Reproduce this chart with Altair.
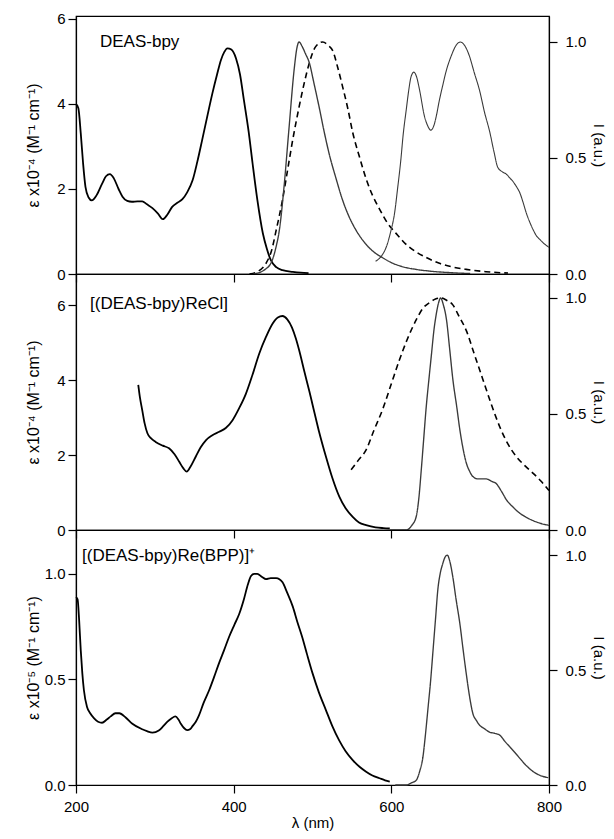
import altair as alt
import pandas as pd

FONT = "Liberation Sans"

# ---------------- Panel 1 : DEAS-bpy ----------------
p1_abs_wl = [200, 203, 206, 209, 212, 216, 220, 226, 233, 238, 243, 248, 254, 259, 265, 271, 278, 284,
             290, 297, 304, 310, 316, 322, 329, 335, 341, 348, 354, 360, 367, 373, 379, 384, 388, 392,
             397, 403, 408, 413, 419, 424, 430, 437, 442, 447, 454, 462, 475, 485, 495]
p1_abs_v = [4.0, 3.9, 3.32, 2.6, 2.05, 1.8, 1.73, 1.85, 2.12, 2.3, 2.35, 2.25, 2.0, 1.82, 1.72, 1.70, 1.71, 1.71,
            1.64, 1.55, 1.42, 1.29, 1.40, 1.58, 1.68, 1.76, 1.92, 2.21, 2.65, 3.15, 3.75, 4.25, 4.7, 5.04, 5.22, 5.31,
            5.28, 5.07, 4.7, 4.09, 3.35, 2.6, 1.75, 0.96, 0.6, 0.33, 0.16, 0.09, 0.05, 0.03, 0.02]

p1_dash_wl = [420, 430, 441, 448, 454, 462, 468, 475, 483, 490, 496, 504, 513, 520, 526, 532, 538, 545, 551,
              560, 568, 576, 585, 595, 606, 618, 631, 645, 661, 678, 695, 720, 748]
p1_dash_v = [0.0, 0.01, 0.046, 0.1, 0.19, 0.32, 0.44, 0.58, 0.72, 0.83, 0.91, 0.98, 1.0, 0.985, 0.96, 0.89, 0.81,
             0.71, 0.61, 0.5, 0.41, 0.34, 0.28, 0.22, 0.175, 0.13, 0.096, 0.07, 0.046, 0.03, 0.02, 0.01, 0.004]

p1_fl_wl = [425, 440, 449, 454, 458, 464, 470, 477, 480, 483, 487, 491, 496, 502, 509, 515, 521, 530, 538,
            546, 555, 565, 576, 589, 602, 616, 631, 650, 674, 700]
p1_fl_v = [0.0, 0.02, 0.06, 0.12, 0.19, 0.38, 0.62, 0.89, 0.97, 1.0, 0.98, 0.95, 0.91, 0.82, 0.71, 0.61, 0.52,
           0.41, 0.32, 0.25, 0.19, 0.14, 0.10, 0.07, 0.046, 0.03, 0.02, 0.012, 0.006, 0.002]

p1_ph_wl = [580, 588, 594, 599, 604, 608, 612, 615, 619, 622, 625, 628.6, 632, 636, 642, 646, 650, 654, 657,
            661, 665, 670, 676, 682, 687.5, 693, 699, 705, 712, 718, 725, 730, 735, 741, 746, 750, 754, 759,
            763, 767, 771.5, 776, 780, 784, 788, 794, 800]
p1_ph_v = [0.055, 0.08, 0.12, 0.18, 0.26, 0.37, 0.49, 0.6, 0.71, 0.79, 0.85, 0.87, 0.85, 0.79, 0.68, 0.64, 0.62,
           0.64, 0.68, 0.75, 0.81, 0.88, 0.94, 0.985, 1.0, 0.985, 0.94, 0.87, 0.79, 0.70, 0.61, 0.53, 0.46,
           0.44, 0.43, 0.415, 0.40, 0.375, 0.35, 0.31, 0.26, 0.22, 0.19, 0.165, 0.15, 0.13, 0.115]

# ---------------- Panel 2 : [(DEAS-bpy)ReCl] ----------------
p2_abs_wl = [279, 281, 284, 287, 290.6, 295, 301, 310, 318, 325, 331, 336, 340.5, 345, 352, 358, 365, 373,
             381.7, 390, 398.6, 407, 415.6, 424, 432.5, 441, 449.5, 456, 462, 468, 474, 479, 483, 490, 496,
             500, 508, 517, 525, 534, 542, 551, 559, 568, 580, 590, 598]
p2_abs_v = [3.87, 3.55, 3.2, 2.85, 2.58, 2.45, 2.35, 2.25, 2.18, 2.02, 1.82, 1.65, 1.56, 1.68, 1.96, 2.2, 2.4,
            2.53, 2.62, 2.72, 2.93, 3.25, 3.64, 4.15, 4.71, 5.15, 5.51, 5.67, 5.71, 5.62, 5.4, 5.1, 4.8, 4.2,
            3.7, 3.35, 2.65, 1.96, 1.4, 0.89, 0.58, 0.35, 0.2, 0.13, 0.07, 0.05, 0.04]

p2_dash_wl = [549, 558, 568, 578, 589, 600, 610, 620, 631.5, 640, 648.5, 656, 663, 670, 678, 686, 695, 705,
              716, 727, 737.5, 748, 758.6, 770, 780, 790, 800]
p2_dash_v = [0.26, 0.3, 0.345, 0.43, 0.52, 0.63, 0.73, 0.82, 0.905, 0.955, 0.98, 0.995, 1.0, 0.99, 0.97, 0.92,
             0.86, 0.76, 0.65, 0.54, 0.445, 0.37, 0.316, 0.275, 0.244, 0.21, 0.17]

p2_fl_wl = [598, 619, 626, 631.5, 635, 638, 641, 644, 648, 651, 654, 657, 660, 662.5, 666, 670, 674, 678, 683,
            687, 691, 695, 699, 703.5, 710, 715, 720.5, 727, 733, 740, 746, 754, 763, 771, 780, 790, 800]
p2_fl_v = [0.0, 0.0, 0.02, 0.057, 0.14, 0.26, 0.39, 0.52, 0.66, 0.76, 0.86, 0.93, 0.98, 1.0, 0.97, 0.905, 0.78,
           0.65, 0.53, 0.43, 0.35, 0.29, 0.255, 0.23, 0.22, 0.22, 0.22, 0.21, 0.2, 0.165, 0.13, 0.1, 0.072,
           0.055, 0.04, 0.028, 0.02]

# ---------------- Panel 3 : [(DEAS-bpy)Re(BPP)]+ ----------------
p3_abs_wl = [200, 202, 204, 206, 208, 210, 214, 218, 223, 228, 233, 239, 244, 250, 255, 263, 271.5, 284, 290,
             297, 305, 311, 316, 321, 326, 330, 333, 337, 341, 345, 348, 352, 356, 362, 369, 375, 381.7, 388,
             394, 401, 407, 413, 418, 422, 426, 430, 436, 441, 447, 454, 458, 462, 468, 475, 481, 487, 493,
             500, 508, 517, 525, 534, 542, 551, 560, 568, 576, 585, 592, 598]
p3_abs_v = [0.89, 0.88, 0.78, 0.64, 0.53, 0.45, 0.37, 0.34, 0.316, 0.30, 0.295, 0.31, 0.325, 0.34, 0.34, 0.32,
            0.29, 0.264, 0.255, 0.248, 0.258, 0.28, 0.3, 0.315, 0.325, 0.31, 0.29, 0.27, 0.26, 0.265, 0.28, 0.3,
            0.33, 0.39, 0.45, 0.51, 0.58, 0.64, 0.70, 0.76, 0.81, 0.88, 0.95, 0.99, 1.0, 1.0, 0.985, 0.975,
            0.98, 0.98, 0.975, 0.96, 0.91, 0.845, 0.77, 0.70, 0.62, 0.53, 0.44, 0.355, 0.28, 0.21, 0.16, 0.118,
            0.085, 0.063, 0.045, 0.032, 0.022, 0.016]

p3_fl_wl = [605, 619, 626, 631.5, 636, 640, 643, 646.4, 650, 653, 656, 659, 662, 665, 668, 671, 674, 678, 682,
            687, 691, 695, 699, 703.5, 708, 712, 718, 724.6, 731, 737.5, 744, 750, 757, 763, 771, 780, 790, 799]
p3_fl_v = [0.0, 0.0, 0.01, 0.02, 0.06, 0.12, 0.21, 0.33, 0.46, 0.59, 0.72, 0.85, 0.92, 0.96, 0.99, 1.0, 0.975,
           0.905, 0.81, 0.70, 0.59, 0.485, 0.39, 0.31, 0.28, 0.26, 0.245, 0.23, 0.225, 0.217, 0.19, 0.167, 0.14,
           0.116, 0.085, 0.058, 0.04, 0.032]

labels = ["DEAS-bpy", "[(DEAS-bpy)ReCl]", "[(DEAS-bpy)Re(BPP)]⁺"]
left_titles = ["ε x10⁻⁴ (M⁻¹ cm⁻¹)", "ε x10⁻⁴  (M⁻¹ cm⁻¹)", "ε x10⁻⁵ (M⁻¹ cm⁻¹)"]
x_ticks = [200, 400, 600, 800]
eps_ticks_a = [0, 2, 4, 6]
eps_ticks_b = [0.0, 0.5, 1.0]
int_ticks = [0.0, 0.5, 1.0]

W = 473
SERIES = ["dash", "thin1", "thin2"]


def em_frame(parts):
    frames = []
    for name, wl, v in parts:
        frames.append(pd.DataFrame({"wl": wl, "v": v, "s": name}))
    return pd.concat(frames, ignore_index=True)


def panel(abs_wl, abs_v, em_parts, ldom, rdom, lvals, lfmt, ltitle, label, lab_x, lab_y, H, bottom):
    xscale = alt.Scale(domain=[200, 800], nice=False, zero=False)
    if bottom:
        xaxis = alt.Axis(values=x_ticks, format="d", title="λ (nm)", labelPadding=6,
                         titlePadding=1, tickSize=8)
    else:
        xaxis = alt.Axis(values=x_ticks, labels=False, title=None, tickSize=8)

    abs_df = pd.DataFrame({"wl": abs_wl, "v": abs_v})
    abs_line = alt.Chart(abs_df).mark_line(color="black", strokeWidth=1.8, interpolate="monotone").encode(
        x=alt.X("wl:Q", scale=xscale, axis=xaxis),
        y=alt.Y("v:Q", scale=alt.Scale(domain=ldom, nice=False, zero=False),
                axis=alt.Axis(orient="left", values=lvals, format=lfmt, title=ltitle,
                              tickSize=8, labelPadding=3, titleX=-43, titleY=H / 2, titleFontSize=16,
                              titleAngle=270, titleAlign="center", titleBaseline="middle")),
    )

    em_df = em_frame(em_parts)
    em_line = alt.Chart(em_df).mark_line(interpolate="monotone").encode(
        x=alt.X("wl:Q", scale=xscale),
        y=alt.Y("v:Q", scale=alt.Scale(domain=rdom, nice=False, zero=False),
                axis=alt.Axis(orient="right", values=int_ticks, format=".1f", title="I (a.u.)",
                              tickSize=8, labelPadding=8, titleX=49, titleY=H / 2,
                              titleAngle=90, titleAlign="center", titleBaseline="middle")),
        detail="s:N",
        strokeDash=alt.StrokeDash("s:N", scale=alt.Scale(domain=SERIES, range=[[6, 4], [1, 0], [1, 0]]),
                                  legend=None),
        strokeWidth=alt.StrokeWidth("s:N", scale=alt.Scale(domain=SERIES, range=[1.6, 1.1, 1.1]),
                                    legend=None),
        color=alt.Color("s:N", scale=alt.Scale(domain=SERIES, range=["black", "#3a3a3a", "#3a3a3a"]),
                        legend=None),
    )

    txt = alt.Chart(pd.DataFrame({"t": [label]})).mark_text(
        align="left", baseline="middle", fontSize=17, font=FONT, color="black"
    ).encode(x=alt.value(lab_x), y=alt.value(lab_y), text="t:N")

    return alt.layer(abs_line, em_line, txt).resolve_scale(y="independent").properties(width=W, height=H)


p1 = panel(p1_abs_wl, p1_abs_v,
           [("dash", p1_dash_wl, p1_dash_v), ("thin1", p1_fl_wl, p1_fl_v), ("thin2", p1_ph_wl, p1_ph_v)],
           [0, 6.07], [0, 1.112], eps_ticks_a, "d", left_titles[0], labels[0], 24, 26, 258, False)
p2 = panel(p2_abs_wl, p2_abs_v,
           [("dash", p2_dash_wl, p2_dash_v), ("thin1", p2_fl_wl, p2_fl_v)],
           [0, 6.83], [0, 1.103], eps_ticks_a, "d", left_titles[1], labels[1], 14, 30, 256, False)
p3 = panel(p3_abs_wl, p3_abs_v,
           [("thin1", p3_fl_wl, p3_fl_v)],
           [0, 1.208], [0, 1.109], eps_ticks_b, ".1f", left_titles[2], labels[2], 6, 26, 255, True)

chart = alt.vconcat(p1, p2, p3, spacing=0, bounds="flush").configure_view(
    stroke="black", strokeWidth=1.2
).configure_axis(
    domainColor="black", tickColor="black", labelColor="black", titleColor="black",
    labelFont=FONT, titleFont=FONT, labelFontSize=15, titleFontSize=15, titleFontWeight="normal",
    grid=False, domainWidth=1.2, tickWidth=1.2, labelFlush=False
).properties(
    padding={"left": 16, "top": 3, "right": 0, "bottom": 0}
)

chart.save("out.html", embed_options={"renderer": "svg", "actions": False})
